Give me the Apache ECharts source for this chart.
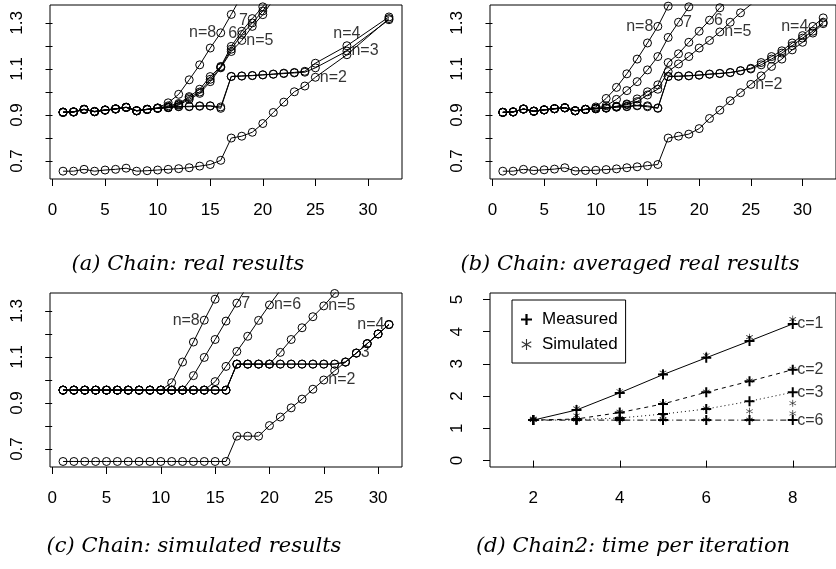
<!DOCTYPE html>
<html>
<head>
<meta charset="utf-8">
<script src="https://cdn.jsdelivr.net/npm/echarts@6/dist/echarts.min.js"></script>
<style>
  html, body { margin: 0; padding: 0; background: #fff; }
  #main { width: 836px; height: 569px; }
</style>
</head>
<body>
<div id="main"></div>
<script>
// ---- panel (a): Chain, real results ----
var aX = [1,2,3,4,5,6,7,8,9,10,11,12,13,14,15,16,17,18,19,20,21,22,23,24,25,28,32];
var aN2 = [0.656,0.656,0.664,0.656,0.661,0.664,0.669,0.656,0.658,0.661,0.664,0.667,0.671,0.678,0.685,0.703,0.800,0.808,0.825,0.863,0.911,0.956,1.001,1.026,1.064,1.162,1.319];
var aN3 = [0.911,0.913,0.924,0.914,0.921,0.926,0.933,0.918,0.924,0.929,0.932,0.936,0.936,0.938,0.939,0.929,1.067,1.069,1.071,1.074,1.077,1.080,1.083,1.086,1.105,1.178,1.314];
var aN4 = [0.913,0.914,0.925,0.915,0.922,0.927,0.933,0.919,0.925,0.930,0.933,0.937,0.938,0.940,0.940,0.935,1.068,1.070,1.072,1.075,1.078,1.082,1.085,1.090,1.125,1.201,1.326];
var aN5 = [0.911,0.913,0.924,0.914,0.921,0.926,0.933,0.918,0.924,0.929,0.932,0.943,0.968,0.994,1.045,1.105,1.176,1.224,1.285,1.336,1.400];
var aN6 = [0.912,0.913,0.924,0.915,0.921,0.926,0.933,0.918,0.924,0.929,0.934,0.946,0.975,1.000,1.055,1.108,1.186,1.250,1.300,1.352,1.420];
var aN7 = [0.912,0.914,0.925,0.915,0.922,0.927,0.934,0.919,0.925,0.930,0.940,0.950,0.980,1.012,1.067,1.111,1.198,1.264,1.319,1.370,1.430];
var aN8 = [0.913,0.914,0.925,0.916,0.922,0.927,0.934,0.919,0.925,0.931,0.953,0.990,1.053,1.118,1.191,1.257,1.337,1.420];

// ---- panel (b): Chain, averaged real results ----
var bX = [1,2,3,4,5,6,7,8,9,10,11,12,13,14,15,16,17,18,19,20,21,22,23,24,25,26,27,28,29,30,31,32];
var bN2 = [0.656,0.656,0.664,0.659,0.662,0.665,0.671,0.657,0.659,0.660,0.663,0.666,0.671,0.675,0.680,0.685,0.800,0.808,0.817,0.841,0.885,0.921,0.962,0.997,1.033,1.070,1.111,1.143,1.183,1.216,1.256,1.297];
var bN3 = [0.911,0.913,0.926,0.916,0.922,0.927,0.931,0.918,0.924,0.927,0.930,0.934,0.936,0.940,0.936,0.929,1.067,1.068,1.070,1.073,1.077,1.080,1.084,1.092,1.100,1.118,1.143,1.169,1.201,1.234,1.264,1.303];
var bN4 = [0.912,0.914,0.926,0.917,0.923,0.928,0.932,0.919,0.925,0.928,0.931,0.935,0.938,0.942,0.940,0.931,1.068,1.069,1.071,1.074,1.078,1.081,1.085,1.093,1.103,1.128,1.154,1.179,1.213,1.245,1.285,1.322];
var bN5 = [0.911,0.913,0.926,0.916,0.922,0.927,0.931,0.918,0.924,0.927,0.930,0.936,0.945,0.958,0.987,1.012,1.089,1.122,1.154,1.191,1.224,1.261,1.303,1.344,1.380,1.420];
var bN6 = [0.912,0.913,0.926,0.916,0.922,0.927,0.931,0.918,0.924,0.928,0.932,0.938,0.948,0.970,1.001,1.031,1.128,1.166,1.216,1.264,1.312,1.366,1.410];
var bN7 = [0.912,0.914,0.926,0.917,0.922,0.927,0.932,0.919,0.925,0.930,0.940,0.968,1.006,1.045,1.096,1.154,1.237,1.303,1.370,1.430];
var bN8 = [0.912,0.914,0.926,0.917,0.923,0.928,0.932,0.919,0.925,0.935,0.972,1.020,1.079,1.143,1.213,1.285,1.373,1.440];

// ---- panel (c): Chain, simulated results ----
var cX = [1,2,3,4,5,6,7,8,9,10,11,12,13,14,15,16,17,18,19,20,21,22,23,24,25,26,27,28,29,30,31];
var cN2 = [0.646,0.646,0.646,0.646,0.646,0.646,0.646,0.646,0.646,0.646,0.646,0.646,0.646,0.646,0.646,0.646,0.756,0.756,0.756,0.802,0.839,0.879,0.917,0.960,1.000,1.040,1.078,1.117,1.158,1.200,1.241];
var cN3 = [0.956,0.956,0.956,0.956,0.956,0.956,0.956,0.956,0.956,0.956,0.956,0.956,0.956,0.956,0.956,0.956,1.069,1.069,1.069,1.069,1.069,1.069,1.069,1.069,1.069,1.069,1.078,1.117,1.158,1.200,1.241];
var cN4 = [0.956,0.956,0.956,0.956,0.956,0.956,0.956,0.956,0.956,0.956,0.956,0.956,0.956,0.956,0.956,0.956,1.069,1.069,1.069,1.069,1.069,1.069,1.069,1.069,1.069,1.069,1.078,1.117,1.158,1.200,1.241];
var cN5 = [0.956,0.956,0.956,0.956,0.956,0.956,0.956,0.956,0.956,0.956,0.956,0.956,0.956,0.956,0.956,0.956,1.069,1.069,1.069,1.069,1.120,1.176,1.227,1.275,1.322,1.376,1.420];
var cN6 = [0.956,0.956,0.956,0.956,0.956,0.956,0.956,0.956,0.956,0.956,0.956,0.956,0.956,0.956,0.993,1.059,1.124,1.190,1.259,1.326,1.390,1.450];
var cN7 = [0.956,0.956,0.956,0.956,0.956,0.956,0.956,0.956,0.956,0.956,0.956,0.956,1.019,1.098,1.176,1.256,1.334,1.410];
var cN8 = [0.956,0.956,0.956,0.956,0.956,0.956,0.956,0.956,0.956,0.956,0.988,1.078,1.165,1.260,1.351,1.440];

// ---- panel (d): Chain2, time per iteration ----
var dX = [2,3,4,5,6,7,8];
var dMeasC1 = [1.255,1.569,2.100,2.667,3.190,3.710,4.240];
var dMeasC2 = [1.255,1.290,1.490,1.757,2.120,2.460,2.820];
var dMeasC3 = [1.255,1.270,1.320,1.443,1.600,1.840,2.120];
var dMeasC6 = [1.255,1.255,1.255,1.255,1.255,1.255,1.255];
var dSimC1 = [1.300,1.620,2.150,2.730,3.270,3.830,4.390];
var dSimC2 = [1.270,1.400,1.520,1.780,2.140,2.480,2.850];
var dSimC3 = [1.270,1.280,1.320,1.380,1.620,1.530,1.780];
var dSimC6 = [1.270,1.270,1.270,1.270,1.270,1.270,1.460];

// tick values
var xTicks30 = [0,5,10,15,20,25,30];
var yTicksN = [0.7,0.8,0.9,1.0,1.1,1.2,1.3];
var yLabelsN = [0.7,0.9,1.1,1.3];
var xTicksD = [2,4,6,8];
var yTicksD = [0,1,2,3,4,5];

// curve labels: [x, y, text]
var aLabels = [[16,1.257,'n=8'],[19,1.312,'7'],[18,1.252,'6'],[18,1.224,'n=5'],[28,1.201,'n=4'],[28,1.178,'n=3'],[25,1.064,'n=2']];
var aLabelSide = ['left','left','left','right','top','right','right'];
var bLabels = [[16,1.285,'n=8'],[18,1.303,'7'],[21,1.312,'6'],[22,1.261,'n=5'],[31,1.285,'n=4'],[25,1.033,'n=2']];
var bLabelSide = ['left','right','right','right','left','right'];
var cLabels = [[14,1.260,'n=8'],[17,1.334,'7'],[20,1.326,'n=6'],[25,1.322,'n=5'],[31,1.241,'n=4'],[28,1.117,'3'],[25,1.000,'n=2']];
var cLabelSide = ['left','right','right','right','left','right','right'];
var dLabels = [[8,4.24,'c=1'],[8,2.82,'c=2'],[8,2.12,'c=3'],[8,1.255,'c=6']];
var dLabelSide = ['right','right','right','right'];

var captions = ['(a) Chain: real results', '(b) Chain: averaged real results',
                '(c) Chain: simulated results', '(d) Chain2: time per iteration'];

var SANS = '"Liberation Sans", Arial, sans-serif';
var plusPath = 'path://M4,0H6V4H10V6H6V10H4V6H0V4H4Z';
var starPath = 'path://M4.5,0H5.5V10H4.5Z M0.92,2.07L9.58,7.07L9.08,7.93L0.42,2.93Z M0.42,7.07L9.08,2.07L9.58,2.93L0.92,7.93Z';

function pairs(xs, vs) {
    return vs.map(function (v, i) { return [xs[i], v]; });
}

function circleLine(g, xs, vs) {
    return {
        type: 'line', xAxisIndex: g, yAxisIndex: g,
        data: pairs(xs, vs),
        symbol: 'circle', symbolSize: 8,
        itemStyle: { color: 'rgba(0,0,0,0)', borderColor: '#000', borderWidth: 1 },
        lineStyle: { color: '#000', width: 1 },
        clip: true, silent: true
    };
}

function labelSeries(g, list, sides) {
    return {
        type: 'scatter', xAxisIndex: g, yAxisIndex: g,
        symbolSize: 1, itemStyle: { color: 'rgba(0,0,0,0)' },
        silent: true,
        data: list.map(function (l, i) {
            return { value: [l[0], l[1]], name: l[2], label: { position: sides[i] } };
        }),
        label: {
            show: true, formatter: '{b}', distance: 4,
            color: '#000', fontSize: 16, fontFamily: SANS
        }
    };
}

function measLine(xs, vs, dash) {
    return {
        name: 'Measured', type: 'line', xAxisIndex: 3, yAxisIndex: 3,
        data: pairs(xs, vs),
        symbol: plusPath, symbolSize: 10,
        itemStyle: { color: '#000' },
        lineStyle: { color: '#000', width: 1, type: dash },
        silent: true
    };
}

function simPoints(xs, vs) {
    return {
        name: 'Simulated', type: 'scatter', xAxisIndex: 3, yAxisIndex: 3,
        data: pairs(xs, vs),
        symbol: starPath, symbolSize: 7,
        itemStyle: { color: '#000' },
        silent: true
    };
}

var gridPos = [[50, 5], [490, 5], [50, 293], [490, 293]];
var grids = gridPos.map(function (p) {
    return { left: p[0], top: p[1], width: 352, height: 174, show: true,
             borderColor: '#000', borderWidth: 1, backgroundColor: 'rgba(0,0,0,0)' };
});

function xAxisFor(g, min, max, ticks) {
    return {
        gridIndex: g, type: 'value', min: min, max: max,
        axisLine: { show: false },
        axisTick: { show: true, length: 7, customValues: ticks, lineStyle: { color: '#000' } },
        axisLabel: { customValues: ticks, margin: 23, color: '#000', fontSize: 17, fontFamily: SANS },
        splitLine: { show: false }
    };
}

function yAxisFor(g, min, max, ticks, labels, digits) {
    return {
        gridIndex: g, type: 'value', min: min, max: max,
        axisLine: { show: false },
        axisTick: { show: true, length: 7, customValues: ticks, lineStyle: { color: '#000' } },
        axisLabel: {
            customValues: labels, rotate: 90, margin: 24, color: '#000', fontSize: 17, fontFamily: SANS,
            formatter: function (v) { return v.toFixed(digits); }
        },
        splitLine: { show: false }
    };
}

var captionPos = [[188, 265], [630, 265], [194, 547], [633, 547]];

var chart = echarts.init(document.getElementById('main'), null, { renderer: 'canvas' });
var option = {
    animation: false,
    backgroundColor: '#fff',
    grid: grids,
    xAxis: [
        xAxisFor(0, -0.24, 33.24, xTicks30),
        xAxisFor(1, -0.24, 33.24, xTicks30),
        xAxisFor(2, -0.2, 32.2, xTicks30),
        xAxisFor(3, 1, 9, xTicksD)
    ],
    yAxis: [
        yAxisFor(0, 0.622, 1.378, yTicksN, yLabelsN, 1),
        yAxisFor(1, 0.622, 1.378, yTicksN, yLabelsN, 1),
        yAxisFor(2, 0.622, 1.378, yTicksN, yLabelsN, 1),
        yAxisFor(3, -0.2, 5.2, yTicksD, yTicksD, 0)
    ],
    legend: {
        left: 512, top: 300, orient: 'vertical',
        data: [{ name: 'Measured', icon: plusPath }, { name: 'Simulated', icon: starPath }],
        itemWidth: 11, itemHeight: 11, itemGap: 8,
        borderColor: '#000', borderWidth: 1, borderRadius: 0,
        padding: [11, 8, 10, 9],
        selectedMode: false,
        textStyle: { color: '#000', fontSize: 17, fontFamily: SANS, padding: [0, 0, 0, 5] }
    },
    graphic: captions.map(function (t, i) {
        return {
            type: 'text', x: captionPos[i][0], y: captionPos[i][1],
            style: { text: t, fill: '#000', font: 'italic 21px "DejaVu Serif"',
                     align: 'center', verticalAlign: 'middle' }
        };
    }),
    series: [
        circleLine(0, aX, aN2), circleLine(0, aX, aN3), circleLine(0, aX, aN4),
        circleLine(0, aX, aN5), circleLine(0, aX, aN6), circleLine(0, aX, aN7), circleLine(0, aX, aN8),
        labelSeries(0, aLabels, aLabelSide),
        circleLine(1, bX, bN2), circleLine(1, bX, bN3), circleLine(1, bX, bN4),
        circleLine(1, bX, bN5), circleLine(1, bX, bN6), circleLine(1, bX, bN7), circleLine(1, bX, bN8),
        labelSeries(1, bLabels, bLabelSide),
        circleLine(2, cX, cN2), circleLine(2, cX, cN3), circleLine(2, cX, cN4),
        circleLine(2, cX, cN5), circleLine(2, cX, cN6), circleLine(2, cX, cN7), circleLine(2, cX, cN8),
        labelSeries(2, cLabels, cLabelSide),
        measLine(dX, dMeasC1, 'solid'),
        measLine(dX, dMeasC2, [4, 4]),
        measLine(dX, dMeasC3, [1, 3]),
        measLine(dX, dMeasC6, [6, 3, 1, 3]),
        simPoints(dX, dSimC1), simPoints(dX, dSimC2), simPoints(dX, dSimC3), simPoints(dX, dSimC6),
        labelSeries(3, dLabels, dLabelSide)
    ]
};
chart.setOption(option);
</script>
</body>
</html>
